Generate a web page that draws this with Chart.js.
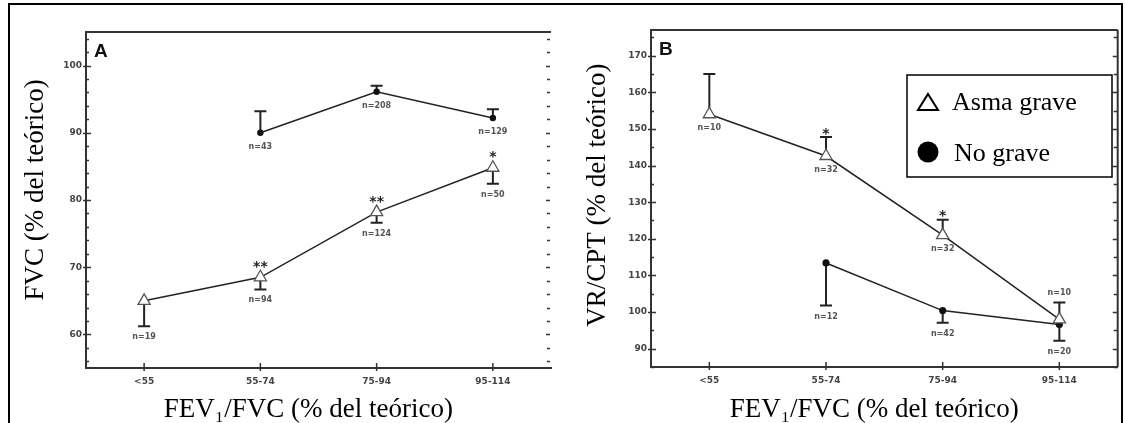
<!DOCTYPE html>
<html>
<head>
<meta charset="utf-8">
<script src="https://cdn.jsdelivr.net/npm/chart.js@4/dist/chart.umd.min.js"></script>
<style>
  body { margin: 0; background: #fff; width: 1126px; height: 423px; overflow: hidden; position: relative; }
  .frame { position: absolute; left: 8px; top: 3px; width: 1111px; height: 440px; border: 2px solid #000; border-bottom: none; }
  .box { position: absolute; top: 0; height: 423px; }
</style>
</head>
<body>
<div class="frame"></div>
<div class="box" style="left:0;width:560px"><canvas id="chartA"></canvas></div>
<div class="box" style="left:560px;width:566px"><canvas id="chartB"></canvas></div>
<script>
// categories shared by both panels
const categories = ['<55', '55-74', '75-94', '95-114'];

// panel A: FVC
const fvcGrave = [65, 68.5, 78.2, 84.8];
const fvcGraveErr = [61.2, 66.7, 76.6, 82.4];
const fvcNoGrave = [null, 90, 96.1, 92.2];
const fvcNoGraveErr = [null, 93.2, 97, 93.5];
const fvcGraveN = ['n=19', 'n=94', 'n=124', 'n=50'];
const fvcNoGraveN = [null, 'n=43', 'n=208', 'n=129'];
const fvcStars = ['', '**', '**', '*'];
const fvcTicks = [60, 70, 80, 90, 100];

// panel B: VR/CPT
const vrGrave = [154, 142.6, 121, 98];
const vrGraveErr = [165, 147.8, 125.2, 102.6];
const vrNoGrave = [null, 113.4, 100.4, 96.6];
const vrNoGraveErr = [null, 101.8, 97.1, 92.2];
const vrGraveN = ['n=10', 'n=32', 'n=32', 'n=10'];
const vrGraveNSide = ['below', 'below', 'below', 'above'];
const vrNoGraveN = [null, 'n=12', 'n=42', 'n=20'];
const vrStars = ['', '*', '*', ''];
const vrTicks = [90, 100, 110, 120, 130, 140, 150, 160, 170];

const INK = '#222';
const TICK_FONT = { family: 'DejaVu Sans', size: 9, weight: 'bold' };

// error bars, frame, inner ticks, n labels, stars, letter, legend
const panelPlugin = {
  id: 'panel',
  beforeDatasetsDraw(chart) {
    const p = chart.options.plugins.panel;
    const { ctx, scales: { x, y } } = chart;
    ctx.save();
    ctx.strokeStyle = INK;
    ctx.lineWidth = 2;
    p.series.forEach(s => {
      s.err.forEach((e, i) => {
        if (e == null) return;
        const px = x.getPixelForValue(i);
        const y0 = y.getPixelForValue(s.values[i]);
        const y1 = y.getPixelForValue(e);
        ctx.beginPath();
        ctx.moveTo(px, y0); ctx.lineTo(px, y1);
        ctx.moveTo(px - 6, y1); ctx.lineTo(px + 6, y1);
        ctx.stroke();
      });
    });
    ctx.restore();
  },
  afterDraw(chart) {
    const p = chart.options.plugins.panel;
    const { ctx, chartArea: a, scales: { x, y } } = chart;
    ctx.save();
    ctx.strokeStyle = '#333';
    ctx.lineWidth = 2;
    ctx.beginPath();
    ctx.moveTo(a.left, a.top); ctx.lineTo(a.right, a.top);
    if (p.rightLine) { ctx.moveTo(a.right, a.top); ctx.lineTo(a.right, a.bottom); }
    ctx.stroke();

    // tick marks (inner, majors cross the axis)
    ctx.lineWidth = 1.5;
    ctx.beginPath();
    for (let v = y.min; v <= y.max; v += 1) {
      if (v % p.minorStep) continue;
      const py = Math.round(y.getPixelForValue(v)) + 0.5;
      const major = p.majors.includes(v);
      ctx.moveTo(a.left - (major ? 3 : 0), py); ctx.lineTo(a.left + (major ? 5 : 3), py);
      ctx.moveTo(a.right - (p.rightLine ? 0 : 1), py); ctx.lineTo(a.right - (major ? 5 : 4), py);
    }
    categories.forEach((c, i) => {
      const px = x.getPixelForValue(i);
      ctx.moveTo(px, a.bottom + 3); ctx.lineTo(px, a.bottom - 5);
    });
    ctx.stroke();

    // n labels and stars
    ctx.textAlign = 'center';
    ctx.textBaseline = 'middle';
    p.series.forEach(s => {
      s.n.forEach((t, i) => {
        if (!t) return;
        const pv = y.getPixelForValue(s.values[i]);
        const pe = s.err[i] == null ? pv : y.getPixelForValue(s.err[i]);
        const px = x.getPixelForValue(i);
        ctx.font = 'bold 8px "DejaVu Sans"';
        ctx.fillStyle = '#555';
        const side = s.side ? s.side[i] : 'below';
        if (side === 'below') ctx.fillText(t, px, Math.max(pv + 3, pe) + 11);
        else ctx.fillText(t, px, Math.min(pv - 6, pe) - 10);
      });
      if (s.stars) s.stars.forEach((t, i) => {
        if (!t) return;
        const pv = y.getPixelForValue(s.values[i]);
        const pe = s.err[i] == null ? pv : y.getPixelForValue(s.err[i]);
        const top = Math.min(pv - 7, pe);
        ctx.font = 'bold 14px "DejaVu Sans"';
        ctx.fillStyle = '#222';
        ctx.fillText(t, x.getPixelForValue(i), top - 3);
      });
    });

    // panel letter
    ctx.fillStyle = '#111';
    ctx.textAlign = 'left';
    ctx.font = 'bold 19px "Liberation Sans"';
    ctx.fillText(p.letter, a.left + 8, a.top + 20);

    if (p.legend) {
      const lx = 347, ly = 75, lw = 205, lh = 102;
      ctx.strokeStyle = '#000';
      ctx.lineWidth = 1.5;
      ctx.strokeRect(lx, ly, lw, lh);
      ctx.lineWidth = 2;
      ctx.beginPath();
      ctx.moveTo(lx + 21, ly + 19); ctx.lineTo(lx + 31, ly + 35); ctx.lineTo(lx + 11, ly + 35); ctx.closePath();
      ctx.stroke();
      ctx.fillStyle = '#000';
      ctx.beginPath();
      ctx.arc(lx + 21, ly + 77, 10.5, 0, Math.PI * 2);
      ctx.fill();
      ctx.font = '26px "Liberation Serif"';
      ctx.fillText('Asma grave', lx + 45, ly + 28);
      ctx.fillText('No grave', lx + 47, ly + 79);
    }
    ctx.restore();
  }
};

function makePanel(id, o) {
  return new Chart(document.getElementById(id), {
    type: 'line',
    data: {
      labels: categories,
      datasets: [
        {
          label: 'Asma grave',
          data: o.grave,
          borderColor: INK, borderWidth: 1.5,
          pointStyle: 'triangle', pointRadius: 7,
          pointBackgroundColor: '#fff', pointBorderColor: '#555', pointBorderWidth: 1.3
        },
        {
          label: 'No grave',
          data: o.noGrave,
          borderColor: INK, borderWidth: 1.5,
          pointStyle: 'circle', pointRadius: o.dotRadius,
          pointBackgroundColor: '#111', pointBorderColor: '#111', pointBorderWidth: 0
        }
      ]
    },
    options: {
      responsive: true,
      maintainAspectRatio: false,
      animation: false,
      layout: { padding: { left: o.padLeft, top: o.padTop, right: o.padRight, bottom: 0 } },
      plugins: {
        legend: { display: false },
        tooltip: { enabled: false },
        panel: o.panel
      },
      scales: {
        x: {
          type: 'category',
          offset: true,
          grid: { display: false, drawTicks: false },
          border: { display: true, color: '#333', width: 2 },
          ticks: { font: TICK_FONT, color: '#444', padding: 8 },
          title: {
            display: true, text: 'FEV\u2081/FVC (% del teórico)   ', color: '#000',
            padding: { top: 0, bottom: -3 },
            font: { family: 'Liberation Serif', size: 27 }
          },
          afterFit: s => { s.height = o.xHeight; }
        },
        y: {
          min: o.min, max: o.max,
          grid: { display: false, drawTicks: false },
          border: { display: true, color: '#333', width: 2 },
          ticks: { font: TICK_FONT, color: '#444', padding: 4 },
          afterBuildTicks: s => { s.ticks = o.ticks.map(v => ({ value: v })); },
          title: {
            display: true, text: o.yTitle, color: '#000', padding: 0,
            font: { family: 'Liberation Serif', size: 27 }
          },
          afterFit: s => { s.width = o.yWidth; }
        }
      }
    },
    plugins: [panelPlugin]
  });
}

makePanel('chartA', {
  grave: fvcGrave, noGrave: fvcNoGrave,
  min: 55, max: 105, ticks: fvcTicks,
  yTitle: '   FVC (% del teórico)',
  padLeft: 20, padTop: 32, padRight: 9, yWidth: 66, xHeight: 55, dotRadius: 3.2,
  panel: {
    letter: 'A', minorStep: 2, majors: fvcTicks, rightLine: false, legend: false,
    series: [
      { values: fvcGrave, err: fvcGraveErr, n: fvcGraveN, stars: fvcStars },
      { values: fvcNoGrave, err: fvcNoGraveErr, n: fvcNoGraveN }
    ]
  }
});

makePanel('chartB', {
  grave: vrGrave, noGrave: vrNoGrave,
  min: 85, max: 177, ticks: vrTicks,
  yTitle: ' VR/CPT (% del teórico)',
  padLeft: 22, padTop: 30, padRight: 7, yWidth: 69, xHeight: 56, dotRadius: 3.6,
  panel: {
    letter: 'B', minorStep: 5, majors: vrTicks, rightLine: true, legend: true,
    series: [
      { values: vrGrave, err: vrGraveErr, n: vrGraveN, side: vrGraveNSide, stars: vrStars },
      { values: vrNoGrave, err: vrNoGraveErr, n: vrNoGraveN }
    ]
  }
});
</script>
</body>
</html>
